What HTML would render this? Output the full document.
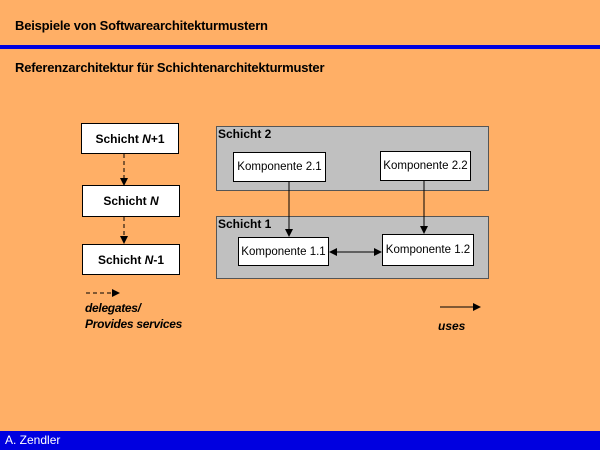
<!DOCTYPE html>
<html><head><style>
body{margin:0;width:600px;height:450px;background:#FFAF66;position:relative;overflow:hidden;font-family:"Liberation Sans",Arial,sans-serif}
.t{position:absolute;white-space:nowrap}
.b{position:absolute;background:#fff;border:1px solid #000;box-sizing:border-box;font-size:11.5px;display:flex;align-items:center;justify-content:center}
.g{position:absolute;background:#C0C0C0;border:1px solid #555;box-sizing:border-box}
</style></head><body>
<div class="t" style="left:15px;top:18px;font-size:13px;font-weight:bold;letter-spacing:-0.2px">Beispiele von Softwarearchitekturmustern</div>
<div style="position:absolute;left:0;top:45px;width:600px;height:4px;background:#0000E0"></div>
<div class="t" style="left:15px;top:60px;font-size:13px;font-weight:bold;letter-spacing:-0.2px">Referenzarchitektur für Schichtenarchitekturmuster</div>

<div class="b" style="left:81px;top:123px;width:98px;height:31px;font-weight:bold;font-size:12px">Schicht&nbsp;<i>N</i>+1</div>
<div class="b" style="left:82px;top:185px;width:98px;height:32px;font-weight:bold;font-size:12px">Schicht&nbsp;<i>N</i></div>
<div class="b" style="left:82px;top:244px;width:98px;height:31px;font-weight:bold;font-size:12px">Schicht&nbsp;<i>N</i>-1</div>

<div class="g" style="left:216px;top:126px;width:273px;height:65px"></div>
<div class="t" style="left:218px;top:127px;font-size:12px;font-weight:bold">Schicht 2</div>
<div class="b" style="left:233px;top:152px;width:93px;height:30px">Komponente 2.1</div>
<div class="b" style="left:380px;top:151px;width:91px;height:30px">Komponente 2.2</div>

<div class="g" style="left:216px;top:216px;width:273px;height:63px"></div>
<div class="t" style="left:218px;top:217px;font-size:12px;font-weight:bold">Schicht 1</div>
<div class="b" style="left:238px;top:237px;width:91px;height:29px">Komponente 1.1</div>
<div class="b" style="left:382px;top:234px;width:92px;height:32px">Komponente 1.2</div>

<svg style="position:absolute;left:0;top:0" width="600" height="450">
<g stroke="#000" stroke-width="1" fill="none">
<line x1="124" y1="154" x2="124" y2="180" stroke-dasharray="4,3"/>
<line x1="124" y1="217" x2="124" y2="239" stroke-dasharray="4,3"/>
<line x1="289" y1="182" x2="289" y2="232"/>
<line x1="424" y1="181" x2="424" y2="229"/>
<line x1="333" y1="252" x2="378" y2="252"/>
<line x1="86" y1="293" x2="113" y2="293" stroke-dasharray="4,3"/>
<line x1="440" y1="307" x2="474" y2="307"/>
</g>
<g fill="#000">
<polygon points="120,178 128,178 124,186"/>
<polygon points="120,236 128,236 124,244"/>
<polygon points="285,229 293,229 289,237"/>
<polygon points="420,226 428,226 424,234"/>
<polygon points="329,252 337,248 337,256"/>
<polygon points="382,252 374,248 374,256"/>
<polygon points="112,289 120,293 112,297"/>
<polygon points="473,303 481,307 473,311"/>
</g>
</svg>
<div class="t" style="left:85px;top:300px;font-size:12px;font-weight:bold;font-style:italic;line-height:16px;letter-spacing:-0.3px">delegates/<br>Provides services</div>
<div class="t" style="left:438px;top:319px;font-size:12px;font-weight:bold;font-style:italic">uses</div>

<div style="position:absolute;left:0;top:431px;width:600px;height:19px;background:#0000E0"></div>
<div class="t" style="left:5px;top:433px;font-size:12px;color:#fff">A. Zendler</div>
</body></html>
